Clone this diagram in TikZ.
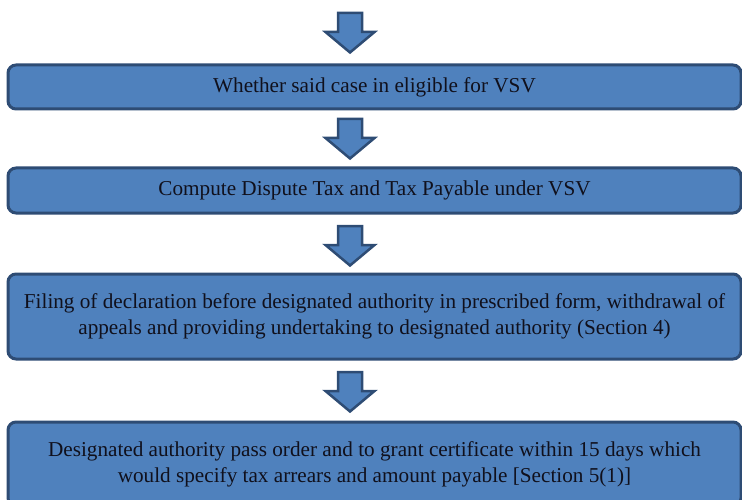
\documentclass[tikz,border=0pt]{standalone}
\usepackage{fontspec}
\setmainfont{Liberation Serif}
\usepackage{xcolor}
\usetikzlibrary{positioning, calc}
\definecolor{stepBlue}{HTML}{4F81BD}
\definecolor{edgeNavy}{HTML}{2E4C74}
\definecolor{inkDark}{HTML}{10101C}
\tikzset{
  stepbox/.style  = {rectangle, rounded corners=8pt, draw=edgeNavy,
                     fill=stepBlue, line width=3pt,
                     minimum width=733pt, align=center, text=inkDark,
                     font=\fontsize{21.2}{26}\selectfont},
  arrowbody/.style = {draw=edgeNavy, fill=stepBlue, line width=2.5pt,
                      line join=miter},
  downarrow/.pic  = {\draw[arrowbody] (-12,0) -- (12,0) -- (12,19)
                       -- (24.5,19) -- (0,39.5) -- (-24.5,19) -- (-12,19) -- cycle;}
}
\begin{document}
\begin{tikzpicture}[x=1pt, y=-1pt]
\useasboundingbox (0,0) rectangle (742,500);
\clip (0,0) rectangle (742,500);

% flow steps
\node[stepbox, minimum height=44pt] (eligible) at (374.5,87)
  {Whether said case in eligible for VSV};
\node[stepbox, minimum height=45pt] (compute) at (374.5,190.5)
  {Compute Dispute Tax and Tax Payable under VSV};
\node[stepbox, minimum height=85pt] (declaration) at (374.5,316.5)
  {Filing of declaration before designated authority in prescribed form, withdrawal of\\
   appeals and providing undertaking to designated authority (Section 4)};
\node[stepbox, minimum height=84pt] (order) at (374.5,464)
  {Designated authority pass order and to grant certificate within 15 days which\\
   would specify tax arrears and amount payable [Section 5(1)]};

% block arrows between the steps
\pic (toEligible)    at (350,13)  {downarrow};
\pic (toCompute)     at (350,119) {downarrow};
\pic (toDeclaration) at (350,226) {downarrow};
\pic (toOrder)       at (350,372) {downarrow};
\end{tikzpicture}
\end{document}
